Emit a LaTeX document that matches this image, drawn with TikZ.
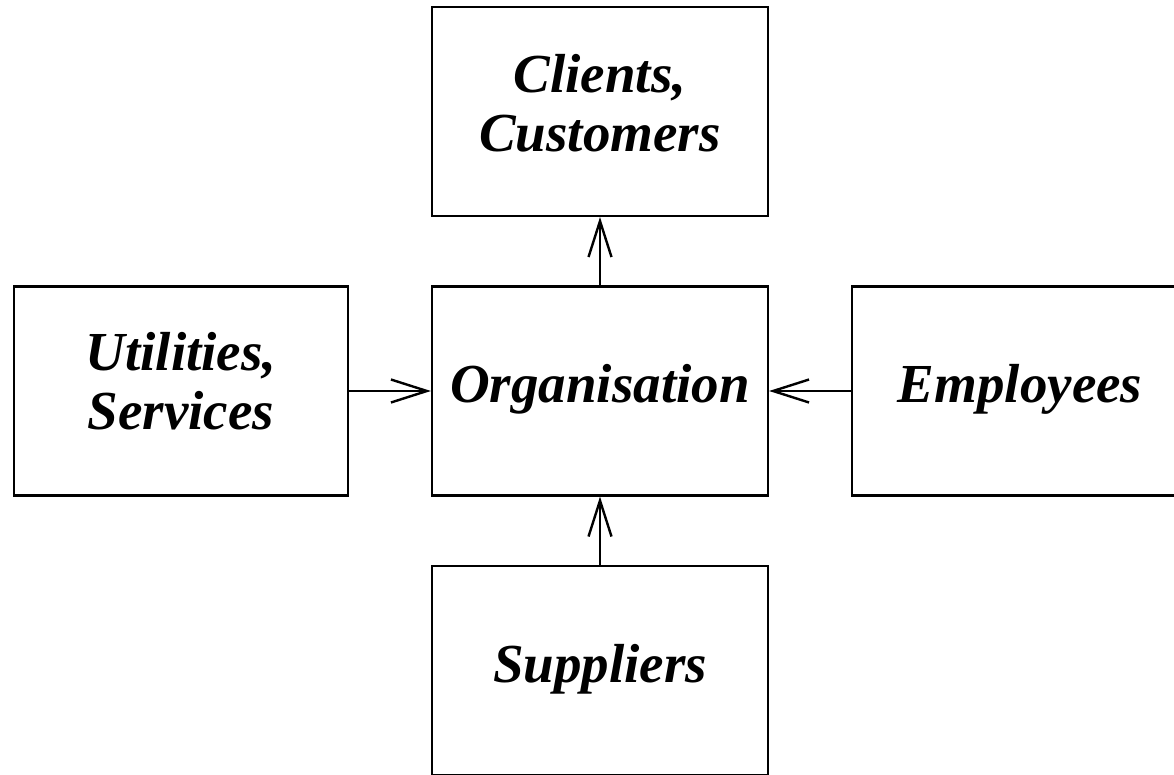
\documentclass[tikz,border=0pt]{standalone}
\usepackage{fontspec}
\setmainfont{Liberation Serif}
\usetikzlibrary{arrows.meta}
\begin{document}
\begin{tikzpicture}[x=1pt,y=-1pt,
  box/.style={draw,line width=2.2pt,minimum width=336pt,minimum height=209pt,inner sep=0pt,
    font=\fontsize{55}{59}\selectfont\bfseries\itshape,align=center},
  lift/.style={text depth=17pt},
  conn/.style={line width=2pt,-{Straight Barb[length=36pt,width=23pt,line width=2.4pt]}}]
\useasboundingbox (0,0) rectangle (1174,775);
\clip (0,0) rectangle (1174,775);
\node[box,lift] (cli) at (600,111.5) {Clients,\\Customers};
\node[box,text depth=15pt] (org) at (600,391) {Organisation};
\node[box,text depth=20pt,minimum width=334pt] (uti) at (181,391) {Utilities,\\Services};
\node[box,text depth=15pt] (emp) at (1020,391) {Employees};
\node[box,text depth=15pt] (sup) at (600,670.5) {Suppliers};
\draw[conn] (org) -- (cli);
\draw[conn] (uti) -- (org);
\draw[conn] (emp) -- (org);
\draw[conn] (sup) -- (org);
\end{tikzpicture}
\end{document}
